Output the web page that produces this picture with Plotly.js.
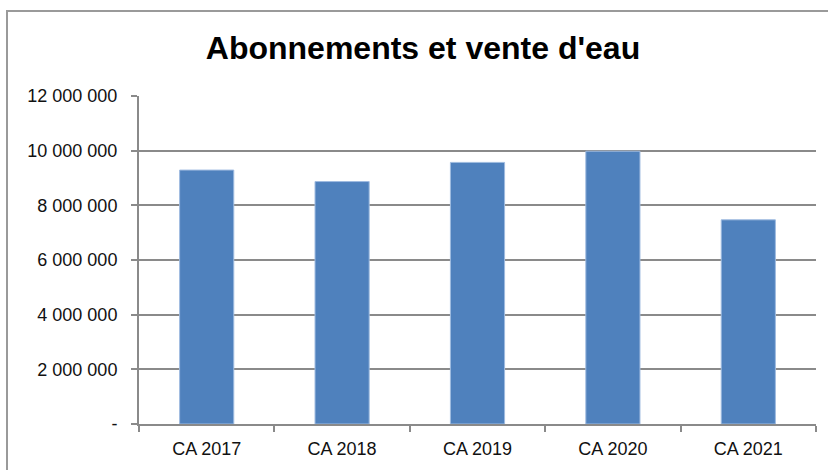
<!DOCTYPE html>
<html>
<head>
<meta charset="utf-8">
<script src="https://cdn.plot.ly/plotly-3.0.1.min.js"></script>
<style>
  html, body { margin: 0; padding: 0; background: #fff; overflow: hidden; }
  #wrap { position: relative; width: 828px; height: 470px; }
  #chart { position: absolute; left: 0; top: 0; width: 828px; height: 470px; }
  #frame { position: absolute; left: 6px; top: 10px; width: 900px; height: 520px;
           border: 2px solid #9a9a9a; box-sizing: border-box; pointer-events: none; }
</style>
</head>
<body>
<div id="wrap">
  <div id="chart"></div>
  <div id="frame"></div>
</div>
<script>
const categories = ["CA 2017", "CA 2018", "CA 2019", "CA 2020", "CA 2021"];
const values = [9290000, 8870000, 9570000, 9980000, 7470000];
const yTickValues = [0, 2000000, 4000000, 6000000, 8000000, 10000000, 12000000];
const yTickLabels = ["-", "2 000 000", "4 000 000", "6 000 000", "8 000 000", "10 000 000", "12 000 000"];
const chartTitle = "Abonnements et vente d'eau";

const fontFamily = "'Liberation Sans', Arial, sans-serif";
const gridColor = "#8a8a8a";

const trace = {
  type: "bar",
  x: categories,
  y: values,
  marker: { color: "#4f81bd", line: { color: "#9fbbe0", width: 1 } },
  hoverinfo: "x+y"
};

const layout = {
  width: 828,
  height: 470,
  margin: { l: 139, r: 12, t: 96, b: 46, pad: 0 },
  paper_bgcolor: "rgba(0,0,0,0)",
  plot_bgcolor: "#ffffff",
  showlegend: false,
  bargap: 0.6,
  title: {
    text: "<b>" + chartTitle + "</b>",
    font: { family: fontFamily, size: 32, color: "#000000" },
    xref: "container", x: 423 / 828, xanchor: "center",
    yref: "container", y: 1 - 48 / 470, yanchor: "middle"
  },
  xaxis: {
    type: "category",
    showline: true, linecolor: gridColor, linewidth: 2,
    ticks: "outside", tickson: "boundaries", ticklen: 6, tickcolor: gridColor, tickwidth: 2,
    showgrid: false, zeroline: false,
    tickfont: { family: fontFamily, size: 18, color: "#111111" },
    ticklabelstandoff: 7
  },
  yaxis: {
    range: [0, 12000000],
    tickvals: yTickValues,
    ticktext: yTickLabels,
    showline: true, linecolor: gridColor, linewidth: 2,
    ticks: "outside", ticklen: 6, tickcolor: gridColor, tickwidth: 2,
    showgrid: true, gridcolor: gridColor, gridwidth: 2,
    zeroline: false,
    tickfont: { family: fontFamily, size: 18, color: "#111111" },
    ticklabelstandoff: 10
  }
};

Plotly.newPlot("chart", [trace], layout, { displayModeBar: false, staticPlot: true });
</script>
</body>
</html>
